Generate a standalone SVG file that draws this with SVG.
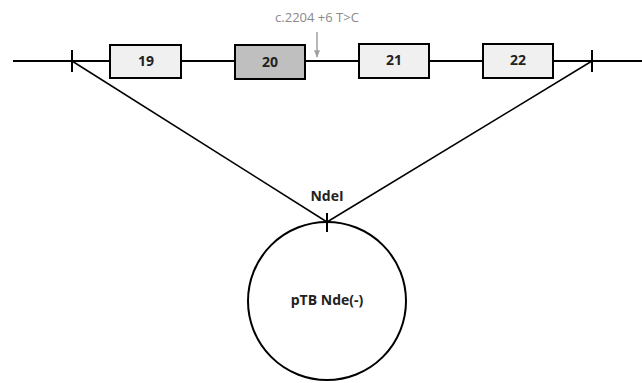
<svg xmlns="http://www.w3.org/2000/svg" width="642" height="383" viewBox="0 0 642 383">
  <style>
    .ln { stroke: #000; stroke-width: 2; fill: none; }
    .thin { stroke: #000; stroke-width: 1.5; fill: none; }
    .exon { fill: #f0f0f0; stroke: #000; stroke-width: 2; }
    .exon.hl { fill: #bfbfbf; }
    .lbl { font-family: "Open Sans", "Liberation Sans", sans-serif; font-weight: bold; font-size: 14px; fill: #222; text-anchor: middle; }
    .mut { font-family: "Open Sans", "Liberation Sans", sans-serif; font-size: 13px; fill: #8a8a8a; text-anchor: middle; }
  </style>
  <defs>
    <marker id="arr" viewBox="0 0 10 10" refX="9" refY="5" markerWidth="5" markerHeight="5" orient="auto">
      <path d="M0,1 L10,5 L0,9 z" fill="#a0a0a0"/>
    </marker>
  </defs>

  <g id="connectors">
    <line class="ln" x1="13" y1="61" x2="642" y2="61"/>
    <line class="ln" x1="72" y1="50" x2="72" y2="72"/>
    <line class="ln" x1="592" y1="50" x2="592" y2="72"/>
    <line class="thin" x1="72" y1="61" x2="327" y2="222"/>
    <line class="thin" x1="592" y1="61" x2="327" y2="222"/>
    <line x1="317" y1="32" x2="317" y2="57" stroke="#a0a0a0" stroke-width="1.5" marker-end="url(#arr)"/>
  </g>

  <g id="exon19">
    <rect class="exon" x="110" y="45" width="71" height="33"/>
    <text class="lbl" x="146" y="66">19</text>
  </g>
  <g id="exon20">
    <rect class="exon hl" x="235" y="45" width="70" height="34"/>
    <text class="lbl" x="270" y="67">20</text>
  </g>
  <g id="exon21">
    <rect class="exon" x="359" y="44" width="70" height="34"/>
    <text class="lbl" x="394" y="65">21</text>
  </g>
  <g id="exon22">
    <rect class="exon" x="483" y="44" width="70" height="34"/>
    <text class="lbl" x="518" y="65">22</text>
  </g>

  <g id="mutation">
    <text class="mut" x="317" y="22">c.2204 +6 T&gt;C</text>
  </g>

  <g id="vector">
    <circle class="ln" cx="327" cy="301" r="79"/>
    <line class="ln" x1="327" y1="213" x2="327" y2="232"/>
    <text class="lbl" x="327" y="201">NdeI</text>
    <text class="lbl" x="327" y="305">pTB Nde(-)</text>
  </g>
</svg>
